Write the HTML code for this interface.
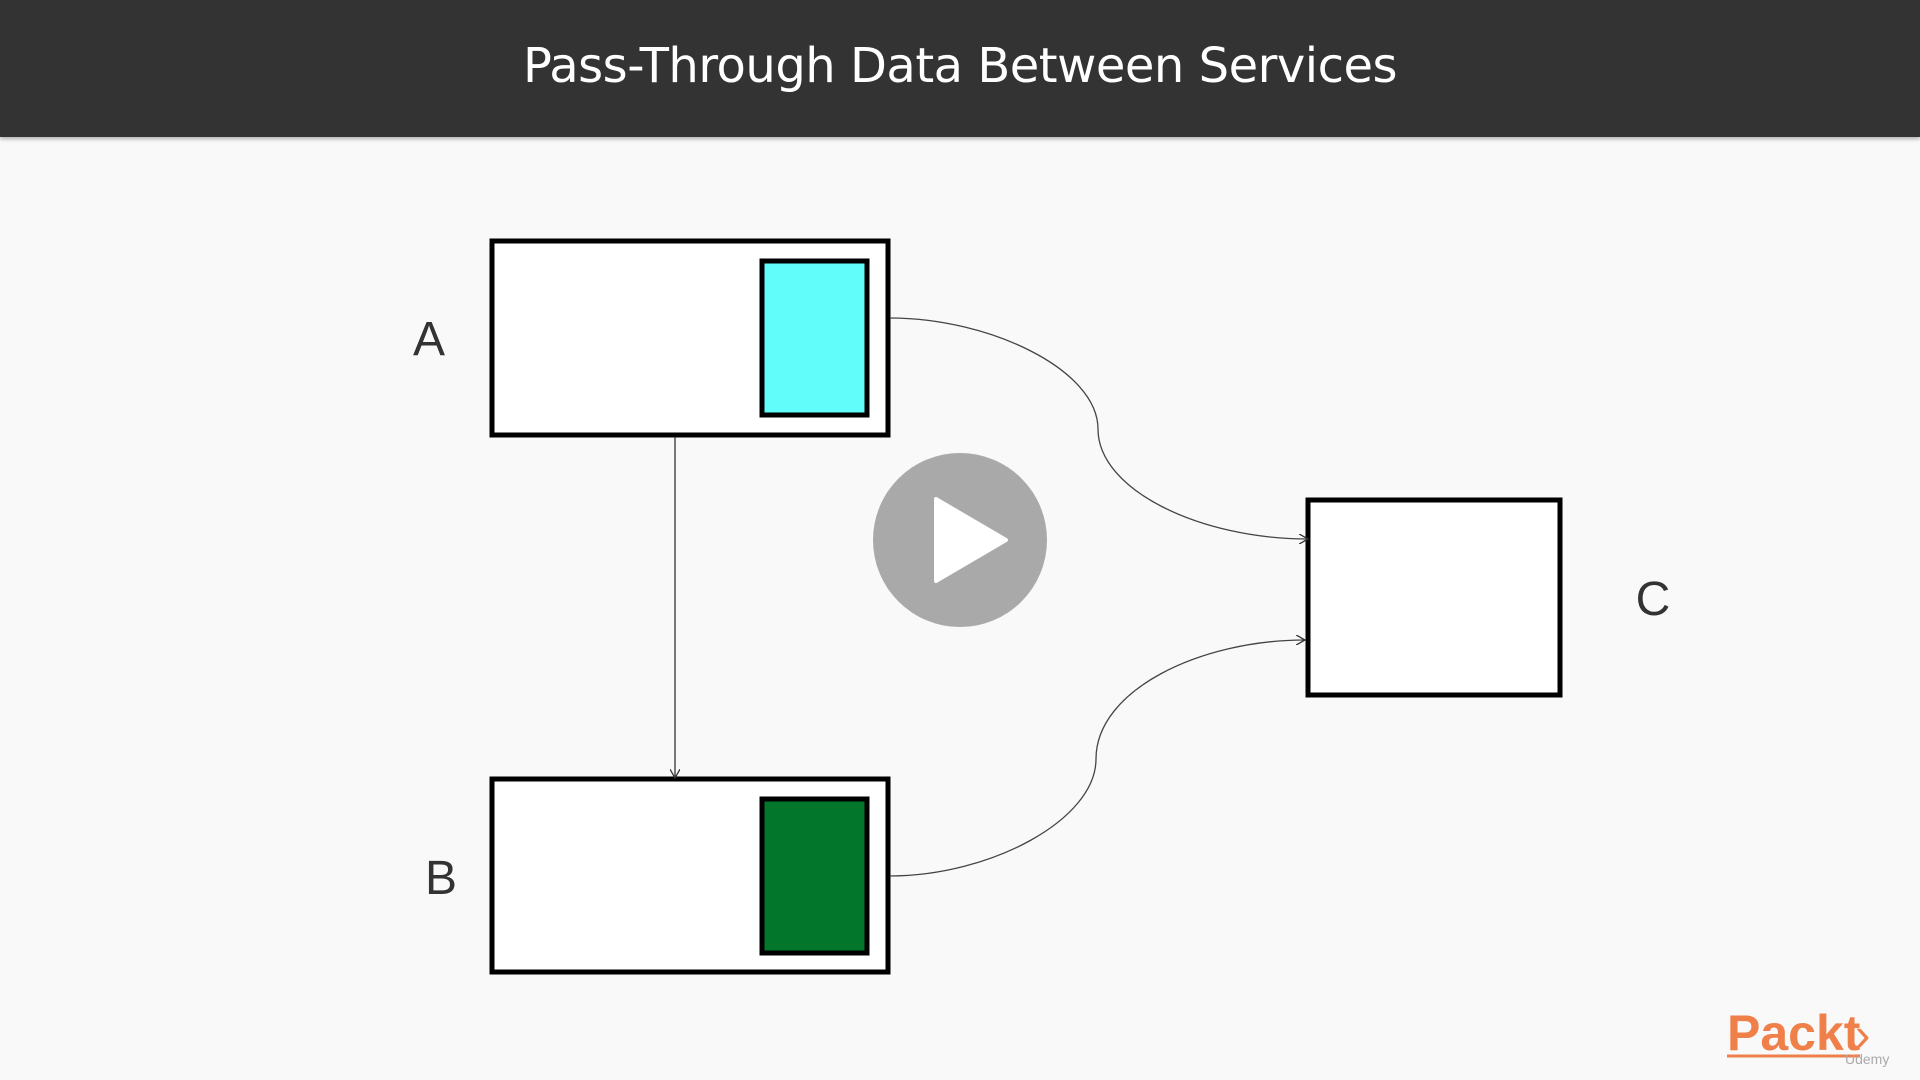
<!DOCTYPE html>
<html><head><meta charset="utf-8"><style>
html,body{margin:0;padding:0;width:1920px;height:1080px;overflow:hidden;background:#f9f9f9;font-family:"Liberation Sans",sans-serif}
.hdr{position:absolute;left:0;top:0;width:1920px;height:137px;background:#333;box-shadow:0 2px 4px rgba(0,0,0,.3)}
.hdr div{position:absolute;left:0;width:1920px;top:38px;text-align:center;color:#fff;font-size:48px;font-family:"DejaVu Sans","Liberation Sans",sans-serif;letter-spacing:-0.5px}
</style></head><body>
<div class="hdr"><div>Pass-Through Data Between Services</div></div>
<svg width="1920" height="1080" style="position:absolute;left:0;top:0">
<defs><marker id="ar" markerWidth="8" markerHeight="8" refX="7" refY="4" orient="auto"><path d="M0,0 L7,4 L0,8" fill="none" stroke="#333" stroke-width="1"/></marker></defs>
<rect x="492" y="241" width="396" height="194" fill="#fff" stroke="#000" stroke-width="5"/>
<rect x="762" y="261" width="105" height="154" fill="#61fdfb" stroke="#000" stroke-width="5"/>
<rect x="492" y="779" width="396" height="193" fill="#fff" stroke="#000" stroke-width="5"/>
<rect x="762" y="799" width="105" height="154" fill="#02762b" stroke="#000" stroke-width="5"/>
<rect x="1308" y="500" width="252" height="195" fill="#fff" stroke="#000" stroke-width="5"/>
<line x1="675" y1="437" x2="675" y2="778" stroke="#333" stroke-width="1.3" marker-end="url(#ar)"/>
<path d="M890,318 C990,318 1098,370 1098,429 C1098,490 1200,539 1308,539" fill="none" stroke="#444" stroke-width="1.3" marker-end="url(#ar)"/>
<path d="M890,876 C990,876 1096,820 1096,759 C1096,690 1200,640 1305,640" fill="none" stroke="#444" stroke-width="1.3" marker-end="url(#ar)"/>
<circle cx="960" cy="540" r="87" fill="#a9a9a9"/>
<path d="M936,499 L1006,540 L936,581 Z" fill="#fff" stroke="#fff" stroke-width="4" stroke-linejoin="round"/>
<text x="429" y="355" font-size="48" fill="#333" text-anchor="middle" font-family="Liberation Sans">A</text>
<text x="441" y="894" font-size="48" fill="#333" text-anchor="middle" font-family="Liberation Sans">B</text>
<text x="1653" y="615" font-size="48" fill="#333" text-anchor="middle" font-family="Liberation Sans">C</text>
<text x="1727" y="1050" font-size="50" fill="#f0804a" font-weight="bold" font-family="Liberation Sans">Packt</text>
<text x="1855" y="1050" font-size="46" fill="#f0804a" font-family="Liberation Sans">›</text>
<line x1="1727" y1="1056" x2="1860" y2="1056" stroke="#f0804a" stroke-width="3"/>
<text x="1845" y="1064" font-size="14" fill="#aaa" font-family="Liberation Sans">Udemy</text>
</svg>
</body></html>
